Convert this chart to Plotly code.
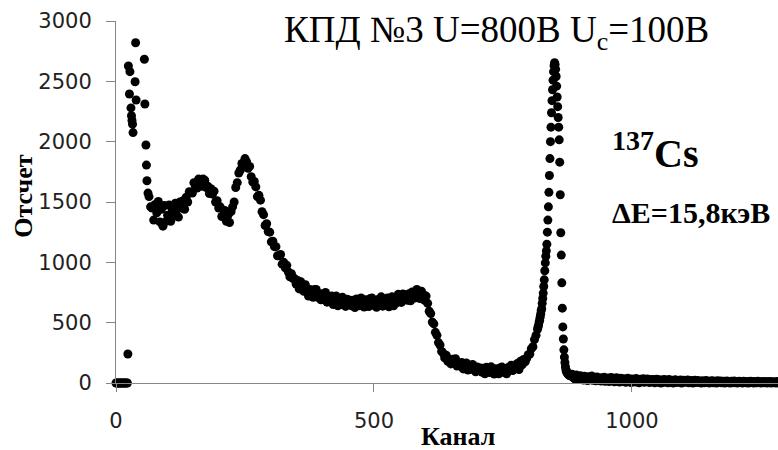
import plotly.graph_objects as go

# Threshold region and low-energy noise peak (points above 3000 fall off the axis)
ch_start = [0, 2, 4, 6, 8, 10, 12, 14, 16, 18, 20, 22, 23, 24, 26, 27, 29, 30, 31, 32,
            33, 37, 38, 39, 55, 56, 58, 59, 60, 62]
cnt_start = [0, 0, 0, 0, 0, 0, 0, 0, 0, 0, 0, 0, 240, 2627, 2395, 2580, 2280, 2215, 2175, 2145,
             2075, 2497, 2820, 2345, 2683, 2312, 1972, 1806, 1676, 1574]

# Continuum: backscatter bumps, Compton continuum and Compton edge (every 3rd channel)
ch_cont = list(range(64, 818, 3))
cnt_cont = [
    1545, 1460, 1450, 1350, 1480, 1410, 1505, 1335, 1440, 1300, 1470, 1340,
    1390, 1475, 1340, 1440, 1385, 1490, 1440, 1375, 1500, 1450, 1510, 1440,
    1540, 1500, 1585, 1580, 1575, 1660, 1630, 1615, 1690, 1675, 1630, 1690,
    1680, 1620, 1630, 1570, 1610, 1565, 1590, 1500, 1510, 1450, 1460, 1380,
    1390, 1430, 1340, 1390, 1330, 1420, 1460, 1500, 1620, 1660, 1740, 1765,
    1820, 1810, 1860, 1835, 1780, 1795, 1710, 1665, 1670, 1625, 1545, 1555,
    1515, 1420, 1395, 1305, 1320, 1255, 1250, 1170, 1175, 1130, 1130, 1055,
    1055, 1065, 985, 1000, 955, 975, 920, 880, 905, 865, 865, 820,
    850, 780, 840, 795, 760, 815, 760, 720, 775, 755, 710, 775,
    775, 710, 735, 690, 740, 705, 750, 670, 705, 680, 720, 650,
    675, 720, 640, 695, 650, 710, 670, 635, 695, 660, 685, 640,
    685, 625, 697, 669, 641, 705, 653, 629, 689, 673, 633, 701,
    705, 645, 675, 627, 692, 660, 714, 637, 682, 655, 704, 632,
    663, 715, 640, 700, 665, 735, 700, 668, 738, 705, 732, 685,
    740, 682, 755, 730, 705, 775, 725, 700, 760, 735, 685, 720,
    660, 595, 575, 505, 490, 420, 395, 335, 315, 262, 248, 208,
    230, 180, 196, 158, 196, 168, 201, 140, 164, 142, 170, 117,
    133, 166, 107, 143, 113, 153, 122, 93, 133, 104, 124, 90,
    123, 77, 130, 108, 86, 134, 95, 75, 119, 107, 77, 127,
    132, 89, 111, 77, 128, 108, 148, 104, 134, 121, 162, 112,
    180, 150, 195, 175, 205, 235, 240, 285, 300, 360, 395, 445,
]

# Full-energy peak of 137Cs (every channel)
ch_peak = list(range(818, 881))
cnt_peak = [
    465, 480, 505, 520, 545, 570, 600, 615, 660,
    700, 745, 800, 855, 930, 995, 1050, 1095, 1150, 1250,
    1350, 1460, 1580, 1720, 1860, 2000, 2120, 2240, 2340, 2430,
    2510, 2580, 2630, 2655, 2640, 2600, 2540, 2460, 2370, 2290,
    2200, 2120, 2015, 1830, 1560, 1245, 1060, 830, 620, 465,
    365, 275, 215, 170, 135, 110, 95, 88, 80, 75,
    70, 66, 63, 60,
]

# High-channel tail (every 2nd channel)
ch_tail = list(range(884, 1301, 2))
cnt_tail = [
    72, 45, 58, 30, 66, 40, 52, 28, 60, 38,
    48, 24, 56, 34, 44, 20, 52, 30, 40, 58,
    22, 46, 32, 18, 50, 36, 26, 44, 16, 38,
    30, 48, 14, 36, 24, 42, 12, 34, 46, 20,
    38, 10, 28, 44, 18, 32, 8, 40, 24, 14,
    36, 20, 6, 30, 40, 12, 26, 4, 34, 18,
    28, 8, 38, 16, 24, 2, 32, 14, 22, 36,
    6, 26, 18, 34, 10, 4, 30, 20, 12, 28,
    2, 22, 32, 8, 16, 26, 0, 20, 12, 30,
    6, 24, 14, 2, 28, 18, 10, 22, 0, 16,
    26, 4, 12, 20, 8, 24, 0, 14, 22, 6,
    18, 10, 24, 2, 16, 8, 20, 0, 12, 22,
    4, 14, 20, 6, 10, 0, 18, 12, 2, 16,
    20, 6, 12, 0, 16, 8, 18, 2, 10, 14,
    0, 18, 6, 12, 16, 2, 8, 14, 0, 10,
    16, 4, 12, 0, 14, 8, 2, 16, 6, 10,
    0, 12, 14, 4, 8, 0, 15, 6, 10, 2,
    13, 0, 8, 14, 4, 10, 0, 12, 6, 2,
    14, 4, 9, 0, 12, 6, 2, 13, 8, 0,
    10, 4, 12, 0, 7, 11, 2, 9, 0, 12,
    5, 10, 0, 8, 12, 3, 7, 0, 10,
]

channels = ch_start + ch_cont + ch_peak + ch_tail
counts = cnt_start + cnt_cont + cnt_peak + cnt_tail

x_ticks = [0, 500, 1000]
y_ticks = [0, 500, 1000, 1500, 2000, 2500, 3000]

fig = go.Figure(go.Scatter(
    x=channels, y=counts, mode="markers",
    marker=dict(size=9, color="black", line=dict(width=0)),
    cliponaxis=False, hoverinfo="skip",
))

axis_grey = "#868686"
tick_font = dict(family="DejaVu Sans", size=21, color="#222222")

fig.update_layout(
    width=778, height=450,
    margin=dict(l=116, r=0, t=21, b=67, pad=0),
    plot_bgcolor="white", paper_bgcolor="white",
    showlegend=False,
    xaxis=dict(range=[0, 1283], tickmode="array", tickvals=x_ticks,
               ticks="outside", ticklen=8, tickwidth=1, tickcolor=axis_grey,
               showline=True, linecolor=axis_grey, linewidth=1,
               showgrid=False, zeroline=False, tickfont=tick_font,
               ticklabelstandoff=11),
    yaxis=dict(range=[0, 3000], tickmode="array", tickvals=y_ticks,
               ticks="outside", ticklen=9, tickwidth=1, tickcolor=axis_grey,
               showline=True, linecolor=axis_grey, linewidth=1,
               showgrid=False, zeroline=False, tickfont=tick_font,
               ticklabelstandoff=10),
)

serif = "Liberation Serif"
fig.add_annotation(text="КПД №3 U=800В U<sub>c</sub>=100В",
                   xref="paper", yref="paper", x=0.2508, y=0.967,
                   xanchor="left", yanchor="middle", showarrow=False,
                   font=dict(family=serif, size=37, color="black"))
fig.add_annotation(text="<b><sup>137</sup>Cs</b>",
                   xref="paper", yref="paper", x=0.746, y=0.643,
                   xanchor="left", yanchor="middle", showarrow=False,
                   font=dict(family=serif, size=40, color="black"))
fig.add_annotation(text="<b>ΔE=15,8кэВ</b>",
                   xref="paper", yref="paper", x=0.746, y=0.47,
                   xanchor="left", yanchor="middle", showarrow=False,
                   font=dict(family=serif, size=30, color="black"))
fig.add_annotation(text="<b>Отсчет</b>",
                   xref="paper", yref="paper", x=-0.139, y=0.517,
                   xanchor="center", yanchor="middle", textangle=-90, showarrow=False,
                   font=dict(family=serif, size=26, color="black"))
fig.add_annotation(text="<b>Канал</b>",
                   xref="paper", yref="paper", x=0.5166, y=-0.148,
                   xanchor="center", yanchor="middle", showarrow=False,
                   font=dict(family=serif, size=26, color="black"))

fig.write_html("out.html")
